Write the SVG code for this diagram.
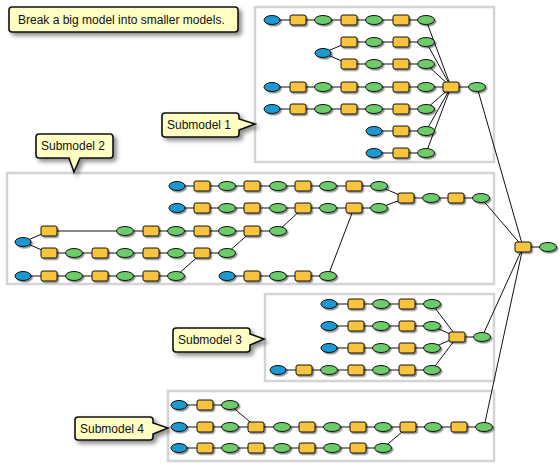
<svg xmlns="http://www.w3.org/2000/svg" xmlns:xlink="http://www.w3.org/1999/xlink" width="560" height="468" viewBox="0 0 560 468">
<style>
.frame{fill:#fff;stroke:#d4d4d4;stroke-width:2.5}
.note{fill:#ffffc4;stroke:#111;stroke-width:1.6;filter:url(#nsh)}
.nt{font-family:"Liberation Sans",Arial,sans-serif;font-size:12px;fill:#111}
.in{fill:#1a98d2;stroke:#111;stroke-width:1}
.tool{fill:#f9c43c;stroke:#111;stroke-width:1}
.out{fill:#6ccc6a;stroke:#111;stroke-width:1}
#connectors path{fill:none;stroke:#111;stroke-width:1}
#nodes{filter:url(#sh)}
</style>
<defs>
<filter id="sh" x="-5%" y="-5%" width="110%" height="110%"><feDropShadow dx="1.5" dy="1.5" stdDeviation="0.7" flood-color="#000" flood-opacity="0.45"/></filter>
<filter id="nsh" x="-20%" y="-40%" width="140%" height="180%"><feDropShadow dx="3" dy="3" stdDeviation="2" flood-color="#000" flood-opacity="0.45"/></filter>
<ellipse id="B" rx="8" ry="4.5" class="in"/>
<rect id="Y" x="-8" y="-5" width="16" height="10" rx="2" class="tool"/>
<ellipse id="G" rx="8.5" ry="4.5" class="out"/>
</defs>
<rect width="560" height="468" fill="#fff"/>
<g id="frames">
<rect id="frame-sub1" class="frame" x="255" y="7" width="239" height="155"/>
<rect id="frame-sub2" class="frame" x="7" y="173" width="487" height="111"/>
<rect id="frame-sub3" class="frame" x="265" y="294" width="229" height="87"/>
<rect id="frame-sub4" class="frame" x="168" y="391" width="326" height="70"/>
</g>
<g id="callout-main"><path class="note" d="M12 7H235Q238 7 238 10V29Q238 32 235 32H12Q9 32 9 29V10Q9 7 12 7Z"/><text class="nt" x="18" y="24">Break a big model into smaller models.</text></g>
<g id="callout-sub1"><path class="note" d="M165 113H236Q239 113 239 116V119L255 124L239 130V134Q239 137 236 137H165Q162 137 162 134V116Q162 113 165 113Z"/><text class="nt" x="167" y="129">Submodel 1</text></g>
<g id="callout-sub2"><path class="note" d="M39 134H110Q113 134 113 137V155Q113 158 110 158H80L74 172L69 158H39Q36 158 36 155V137Q36 134 39 134Z"/><text class="nt" x="41" y="150">Submodel 2</text></g>
<g id="callout-sub3"><path class="note" d="M176 328H247Q250 328 250 331V334L264 339L250 345V349Q250 352 247 352H176Q173 352 173 349V331Q173 328 176 328Z"/><text class="nt" x="178" y="344">Submodel 3</text></g>
<g id="callout-sub4"><path class="note" d="M78 417H150Q153 417 153 420V423L168 428L153 434V437Q153 440 150 440H78Q75 440 75 437V420Q75 417 78 417Z"/><text class="nt" x="80" y="433">Submodel 4</text></g>
<g id="connectors">
<path d="M272 20H426M349 42H426M323 53L349 42M323 53L349 64M349 64H426M272 87H477M272 109H426M374 131H426M374 153H426M426 20L451 87M426 42L451 87M426 64L451 87M426 109L451 87M426 131L451 87M426 153L451 87M477 87L523 247"/>
<path d="M177 186H379L406 198H481M177 208H379L406 198M49 231H278L303 208M23 242L49 231M23 242L49 253M49 253H227L252 231M23 276H176L202 253M227 276H328L354 208M481 198L523 247"/>
<path d="M329 304H432L457 337M329 326H432L457 337M329 348H432L457 337M278 370H432L457 337M457 337H482L523 247"/>
<path d="M179 405H230L256 427M179 427H484L523 247M179 448H383L408 427M523 247H548"/>
</g>
<g id="nodes">
<g id="s1-a1"><use href="#B" x="272" y="20"/></g>
<g id="s1-a2"><use href="#Y" x="298" y="20"/></g>
<g id="s1-a3"><use href="#G" x="323" y="20"/></g>
<g id="s1-a4"><use href="#Y" x="349" y="20"/></g>
<g id="s1-a5"><use href="#G" x="374" y="20"/></g>
<g id="s1-a6"><use href="#Y" x="401" y="20"/></g>
<g id="s1-a7"><use href="#G" x="426" y="20"/></g>
<g id="s1-b1"><use href="#Y" x="349" y="42"/></g>
<g id="s1-b2"><use href="#G" x="374" y="42"/></g>
<g id="s1-b3"><use href="#Y" x="401" y="42"/></g>
<g id="s1-b4"><use href="#G" x="426" y="42"/></g>
<g id="s1-bc"><use href="#B" x="323" y="53"/></g>
<g id="s1-c1"><use href="#Y" x="349" y="64"/></g>
<g id="s1-c2"><use href="#G" x="374" y="64"/></g>
<g id="s1-c3"><use href="#Y" x="401" y="64"/></g>
<g id="s1-c4"><use href="#G" x="426" y="64"/></g>
<g id="s1-d1"><use href="#B" x="272" y="87"/></g>
<g id="s1-d2"><use href="#Y" x="298" y="87"/></g>
<g id="s1-d3"><use href="#G" x="323" y="87"/></g>
<g id="s1-d4"><use href="#Y" x="349" y="87"/></g>
<g id="s1-d5"><use href="#G" x="374" y="87"/></g>
<g id="s1-d6"><use href="#Y" x="401" y="87"/></g>
<g id="s1-d7"><use href="#G" x="426" y="87"/></g>
<g id="s1-e1"><use href="#B" x="272" y="109"/></g>
<g id="s1-e2"><use href="#Y" x="298" y="109"/></g>
<g id="s1-e3"><use href="#G" x="323" y="109"/></g>
<g id="s1-e4"><use href="#Y" x="349" y="109"/></g>
<g id="s1-e5"><use href="#G" x="374" y="109"/></g>
<g id="s1-e6"><use href="#Y" x="401" y="109"/></g>
<g id="s1-e7"><use href="#G" x="426" y="109"/></g>
<g id="s1-f1"><use href="#B" x="374" y="131"/></g>
<g id="s1-f2"><use href="#Y" x="401" y="131"/></g>
<g id="s1-f3"><use href="#G" x="426" y="131"/></g>
<g id="s1-g1"><use href="#B" x="374" y="153"/></g>
<g id="s1-g2"><use href="#Y" x="401" y="153"/></g>
<g id="s1-g3"><use href="#G" x="426" y="153"/></g>
<g id="s1-hub"><use href="#Y" x="451" y="87"/></g>
<g id="s1-out"><use href="#G" x="477" y="87"/></g>

<g id="s2-a1"><use href="#B" x="177" y="186"/></g>
<g id="s2-a2"><use href="#Y" x="202" y="186"/></g>
<g id="s2-a3"><use href="#G" x="227" y="186"/></g>
<g id="s2-a4"><use href="#Y" x="252" y="186"/></g>
<g id="s2-a5"><use href="#G" x="278" y="186"/></g>
<g id="s2-a6"><use href="#Y" x="303" y="186"/></g>
<g id="s2-a7"><use href="#G" x="328" y="186"/></g>
<g id="s2-a8"><use href="#Y" x="354" y="186"/></g>
<g id="s2-a9"><use href="#G" x="379" y="186"/></g>
<g id="s2-b1"><use href="#B" x="177" y="208"/></g>
<g id="s2-b2"><use href="#Y" x="202" y="208"/></g>
<g id="s2-b3"><use href="#G" x="227" y="208"/></g>
<g id="s2-b4"><use href="#Y" x="252" y="208"/></g>
<g id="s2-b5"><use href="#G" x="278" y="208"/></g>
<g id="s2-b6"><use href="#Y" x="303" y="208"/></g>
<g id="s2-b7"><use href="#G" x="328" y="208"/></g>
<g id="s2-b8"><use href="#Y" x="354" y="208"/></g>
<g id="s2-b9"><use href="#G" x="379" y="208"/></g>
<g id="s2-c1"><use href="#Y" x="49" y="231"/></g>
<g id="s2-c2"><use href="#G" x="125" y="231"/></g>
<g id="s2-c3"><use href="#Y" x="151" y="231"/></g>
<g id="s2-c4"><use href="#G" x="176" y="231"/></g>
<g id="s2-c5"><use href="#Y" x="202" y="231"/></g>
<g id="s2-c6"><use href="#G" x="227" y="231"/></g>
<g id="s2-c7"><use href="#Y" x="252" y="231"/></g>
<g id="s2-c8"><use href="#G" x="278" y="231"/></g>
<g id="s2-cd"><use href="#B" x="23" y="242"/></g>
<g id="s2-d1"><use href="#Y" x="49" y="253"/></g>
<g id="s2-d2"><use href="#G" x="74" y="253"/></g>
<g id="s2-d3"><use href="#Y" x="100" y="253"/></g>
<g id="s2-d4"><use href="#G" x="125" y="253"/></g>
<g id="s2-d5"><use href="#Y" x="151" y="253"/></g>
<g id="s2-d6"><use href="#G" x="176" y="253"/></g>
<g id="s2-d7"><use href="#Y" x="202" y="253"/></g>
<g id="s2-d8"><use href="#G" x="227" y="253"/></g>
<g id="s2-e1"><use href="#B" x="23" y="276"/></g>
<g id="s2-e2"><use href="#Y" x="49" y="276"/></g>
<g id="s2-e3"><use href="#G" x="74" y="276"/></g>
<g id="s2-e4"><use href="#Y" x="100" y="276"/></g>
<g id="s2-e5"><use href="#G" x="125" y="276"/></g>
<g id="s2-e6"><use href="#Y" x="151" y="276"/></g>
<g id="s2-e7"><use href="#G" x="176" y="276"/></g>
<g id="s2-f1"><use href="#B" x="227" y="276"/></g>
<g id="s2-f2"><use href="#Y" x="252" y="276"/></g>
<g id="s2-f3"><use href="#G" x="278" y="276"/></g>
<g id="s2-f4"><use href="#Y" x="303" y="276"/></g>
<g id="s2-f5"><use href="#G" x="328" y="276"/></g>
<g id="s2-hub"><use href="#Y" x="406" y="198"/></g>
<g id="s2-h2"><use href="#G" x="431" y="198"/></g>
<g id="s2-h3"><use href="#Y" x="456" y="198"/></g>
<g id="s2-out"><use href="#G" x="481" y="198"/></g>

<g id="s3-a1"><use href="#B" x="329" y="304"/></g>
<g id="s3-a2"><use href="#Y" x="356" y="304"/></g>
<g id="s3-a3"><use href="#G" x="381" y="304"/></g>
<g id="s3-a4"><use href="#Y" x="407" y="304"/></g>
<g id="s3-a5"><use href="#G" x="432" y="304"/></g>
<g id="s3-b1"><use href="#B" x="329" y="326"/></g>
<g id="s3-b2"><use href="#Y" x="356" y="326"/></g>
<g id="s3-b3"><use href="#G" x="381" y="326"/></g>
<g id="s3-b4"><use href="#Y" x="407" y="326"/></g>
<g id="s3-b5"><use href="#G" x="432" y="326"/></g>
<g id="s3-c1"><use href="#B" x="329" y="348"/></g>
<g id="s3-c2"><use href="#Y" x="356" y="348"/></g>
<g id="s3-c3"><use href="#G" x="381" y="348"/></g>
<g id="s3-c4"><use href="#Y" x="407" y="348"/></g>
<g id="s3-c5"><use href="#G" x="432" y="348"/></g>
<g id="s3-d1"><use href="#B" x="278" y="370"/></g>
<g id="s3-d2"><use href="#Y" x="304" y="370"/></g>
<g id="s3-d3"><use href="#G" x="329" y="370"/></g>
<g id="s3-d4"><use href="#Y" x="356" y="370"/></g>
<g id="s3-d5"><use href="#G" x="381" y="370"/></g>
<g id="s3-d6"><use href="#Y" x="407" y="370"/></g>
<g id="s3-d7"><use href="#G" x="432" y="370"/></g>
<g id="s3-hub"><use href="#Y" x="457" y="337"/></g>
<g id="s3-out"><use href="#G" x="482" y="337"/></g>

<g id="s4-a1"><use href="#B" x="179" y="405"/></g>
<g id="s4-a2"><use href="#Y" x="205" y="405"/></g>
<g id="s4-a3"><use href="#G" x="230" y="405"/></g>
<g id="s4-b1"><use href="#B" x="179" y="427"/></g>
<g id="s4-b2"><use href="#Y" x="205" y="427"/></g>
<g id="s4-b3"><use href="#G" x="230" y="427"/></g>
<g id="s4-b4"><use href="#Y" x="256" y="427"/></g>
<g id="s4-b5"><use href="#G" x="282" y="427"/></g>
<g id="s4-b6"><use href="#Y" x="307" y="427"/></g>
<g id="s4-b7"><use href="#G" x="332" y="427"/></g>
<g id="s4-b8"><use href="#Y" x="358" y="427"/></g>
<g id="s4-b9"><use href="#G" x="383" y="427"/></g>
<g id="s4-b10"><use href="#Y" x="408" y="427"/></g>
<g id="s4-b11"><use href="#G" x="433" y="427"/></g>
<g id="s4-b12"><use href="#Y" x="459" y="427"/></g>
<g id="s4-out"><use href="#G" x="484" y="427"/></g>
<g id="s4-c1"><use href="#B" x="179" y="448"/></g>
<g id="s4-c2"><use href="#Y" x="205" y="448"/></g>
<g id="s4-c3"><use href="#G" x="230" y="448"/></g>
<g id="s4-c4"><use href="#Y" x="256" y="448"/></g>
<g id="s4-c5"><use href="#G" x="282" y="448"/></g>
<g id="s4-c6"><use href="#Y" x="307" y="448"/></g>
<g id="s4-c7"><use href="#G" x="332" y="448"/></g>
<g id="s4-c8"><use href="#Y" x="358" y="448"/></g>
<g id="s4-c9"><use href="#G" x="383" y="448"/></g>

<g id="master-tool"><use href="#Y" x="523" y="247"/></g>
<g id="master-out"><use href="#G" x="548" y="247"/></g>
</g>
</svg>
